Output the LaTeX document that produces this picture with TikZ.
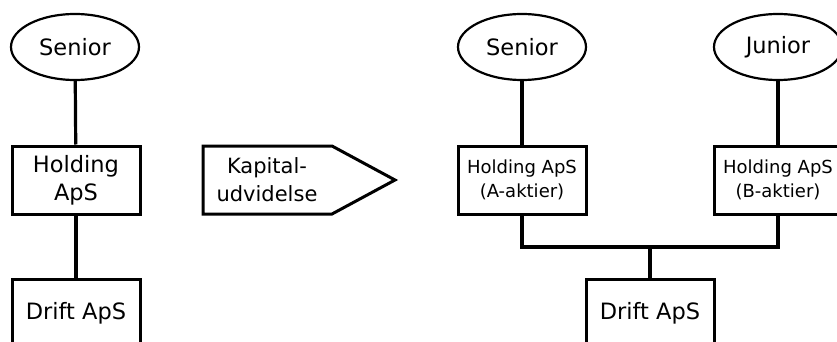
\documentclass[tikz,border=0pt]{standalone}
\usepackage{fontspec}
\setmainfont{DejaVu Sans}
\usetikzlibrary{shapes.geometric}

\begin{document}
\begin{tikzpicture}[x=1pt,y=-1pt,
  owner/.style={draw, ellipse, line width=2.2pt, minimum width=128pt, minimum height=66pt,
    inner sep=0pt, font=\fontsize{22.5}{27}\selectfont},
  company/.style={draw, rectangle, line width=3pt, minimum width=128pt, minimum height=68pt,
    inner sep=0pt, align=center, font=\fontsize{22.5}{28}\selectfont},
  small/.style={font=\fontsize{18}{24}\selectfont},
  link/.style={line width=3.2pt}]
\useasboundingbox (0,0) rectangle (837,342);
\node[owner] (senL) at (75,47) {Senior};
\node[company] (holdL) at (76,180) {Holding\\ApS};
\node[company] (driftL) at (76,313) {Drift ApS};
\node[align=center, font=\fontsize{21}{28}\selectfont] (kap) at (267,180) {Kapital-\\udvidelse};
\draw[line width=3pt] (203,146) -- (332,146) -- (395,180) -- (332,214) -- (203,214) -- cycle;
\node[owner] (senR) at (522,47) {Senior};
\node[owner] (jun) at (778,47) {Junior};
\node[company, small] (holdA) at (522,180) {Holding ApS\\(A-aktier)};
\node[company, small] (holdB) at (778,180) {Holding ApS\\(B-aktier)};
\node[company] (driftR) at (650,313) {Drift ApS};
\coordinate (join) at (650,247);
\draw[link] (senL) -- (holdL);
\draw[link] (holdL) -- (driftL);
\draw[link] (senR) -- (holdA);
\draw[link] (jun) -- (holdB);
\draw[link] (holdA) |- (join) -| (holdB);
\draw[link] (join) -- (driftR);
\end{tikzpicture}
\end{document}
